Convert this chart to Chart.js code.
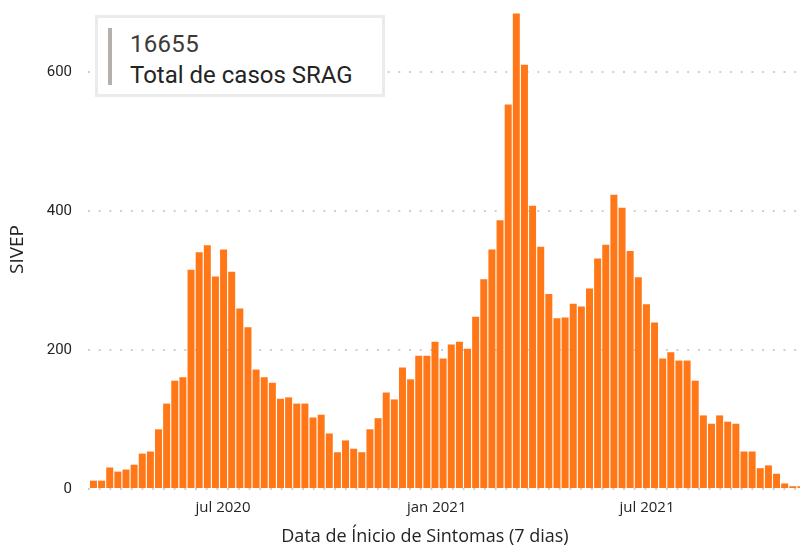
<!DOCTYPE html>
<html>
<head>
<meta charset="utf-8">
<script src="https://cdn.jsdelivr.net/npm/chart.js@4.4.1/dist/chart.umd.min.js"></script>
<style>
  html, body { margin: 0; padding: 0; background: #ffffff; }
  #wrap { position: relative; width: 800px; height: 545px; overflow: hidden; }
  #c { position: absolute; left: 0; top: 0; }
  #card { position: absolute; left: 95px; top: 15px; width: 290px; height: 82px; box-sizing: border-box;
          border: 3px solid #ebebeb; background: #ffffff; }
  #card .bar { position: absolute; left: 10px; top: 10px; width: 4px; height: 57px; background: #b3b0ad; }
  #card .num { position: absolute; left: 32px; top: 12px; font: 24px Roboto, sans-serif; line-height: 28px; color: #3b3a39; letter-spacing: 0.3px; white-space: nowrap; }
  #card .lbl { position: absolute; left: 32px; top: 43px; font: 24px Roboto, sans-serif; line-height: 28px; color: #252423; white-space: nowrap; }
  #xtitle { position: absolute; left: 225px; width: 400px; top: 522px; text-align: center; font: 18px "Open Sans", sans-serif; color: #252423; line-height: 26px; }
</style>
</head>
<body>
<div id="wrap">
  <canvas id="c" width="800" height="545"></canvas>
  <div id="card"><div class="bar"></div><div class="num">16655</div><div class="lbl">Total de casos SRAG</div></div>
  <div id="xtitle">Data de Ínicio de Sintomas (7 dias)</div>
</div>
<script>
// Week start dates (epidemiological weeks, Sunday start)
const weeks = [
  '2020-03-08','2020-03-15','2020-03-22','2020-03-29','2020-04-05','2020-04-12','2020-04-19','2020-04-26',
  '2020-05-03','2020-05-10','2020-05-17','2020-05-24','2020-05-31','2020-06-07','2020-06-14','2020-06-21',
  '2020-06-28','2020-07-05','2020-07-12','2020-07-19','2020-07-26','2020-08-02','2020-08-09','2020-08-16',
  '2020-08-23','2020-08-30','2020-09-06','2020-09-13','2020-09-20','2020-09-27','2020-10-04','2020-10-11',
  '2020-10-18','2020-10-25','2020-11-01','2020-11-08','2020-11-15','2020-11-22','2020-11-29','2020-12-06',
  '2020-12-13','2020-12-20','2020-12-27','2021-01-03','2021-01-10','2021-01-17','2021-01-24','2021-01-31',
  '2021-02-07','2021-02-14','2021-02-21','2021-02-28','2021-03-07','2021-03-14','2021-03-21','2021-03-28',
  '2021-04-04','2021-04-11','2021-04-18','2021-04-25','2021-05-02','2021-05-09','2021-05-16','2021-05-23',
  '2021-05-30','2021-06-06','2021-06-13','2021-06-20','2021-06-27','2021-07-04','2021-07-11','2021-07-18',
  '2021-07-25','2021-08-01','2021-08-08','2021-08-15','2021-08-22','2021-08-29','2021-09-05','2021-09-12',
  '2021-09-19','2021-09-26','2021-10-03','2021-10-10','2021-10-17','2021-10-24','2021-10-31','2021-11-07'
];
// Weekly SRAG cases (SIVEP)
const cases = [
  12, 12, 31, 25, 28, 35, 51, 54, 86, 123, 156, 161,
  316, 341, 351, 306, 345, 313, 260, 233, 172,
  161, 153, 130, 132, 123, 123, 103, 107, 80, 53, 70, 58, 53, 86, 102, 139, 129, 175, 158, 192, 192,
  212, 188, 208, 212, 202, 248, 302, 345, 387, 554, 685, 611, 408, 349, 281, 246, 247, 267, 263, 289, 332,
  352, 424, 405, 343, 305, 266, 240, 188, 197, 185, 185, 156, 106, 94, 106, 97, 94, 54, 54, 30, 34, 22, 8, 4, 4
];
const xTickDates = ['2020-07-01', '2021-01-01', '2021-07-01'];
const xTickLabels = ['jul 2020', 'jan 2021', 'jul 2021'];
const yTickValues = [0, 200, 400, 600];
const totalCases = '16655';

const DAY = 86400000;
const dayOf = s => Date.parse(s + 'T00:00:00Z') / DAY;
const t0 = dayOf(weeks[0]);

const points = weeks.map((w, i) => ({ x: dayOf(w) + 3.5, y: cases[i] }));
const xTicks = xTickDates.map(dayOf);

new Chart(document.getElementById('c'), {
  type: 'bar',
  data: {
    datasets: [{
      label: 'SIVEP',
      data: points,
      backgroundColor: '#FF7716',
      borderWidth: 0,
      categoryPercentage: 1.0,
      barPercentage: 0.86
    }]
  },
  options: {
    responsive: false,
    animation: false,
    layout: { padding: { left: 0, right: 0, top: 10, bottom: 0 } },
    plugins: { legend: { display: false }, tooltip: { enabled: false } },
    scales: {
      x: {
        type: 'linear',
        offset: false,
        min: t0 - 1.2,
        max: t0 + 611.7,
        afterBuildTicks: s => { s.ticks = xTicks.map(v => ({ value: v })); },
        afterFit: s => { s.height = 56; s.paddingLeft = 0; s.paddingRight = 0; },
        ticks: {
          autoSkip: false,
          maxRotation: 0,
          padding: 10,
          color: '#252423',
          font: { family: 'Open Sans', size: 15 },
          callback: v => { const i = xTicks.indexOf(v); return i >= 0 ? xTickLabels[i] : ''; }
        },
        grid: { display: false, drawTicks: false },
        border: { display: false }
      },
      y: {
        min: 0,
        max: 690,
        afterBuildTicks: s => { s.ticks = yTickValues.map(v => ({ value: v })); },
        afterFit: s => { s.width = 88; s.paddingTop = 0; s.paddingBottom = 0; },
        ticks: {
          padding: 16,
          color: '#252423',
          font: { family: 'Roboto', size: 15 }
        },
        grid: {
          drawTicks: false,
          color: '#cfcfcf',
          lineWidth: 2,
          borderDash: [2, 8.7]
        },
        border: { display: false, dash: [2, 8.7] },
        title: {
          display: true,
          text: 'SIVEP',
          color: '#252423',
          font: { family: 'Open Sans', size: 19 },
          padding: { top: 6, bottom: 0 }
        }
      }
    }
  }
});
</script>
</body>
</html>
